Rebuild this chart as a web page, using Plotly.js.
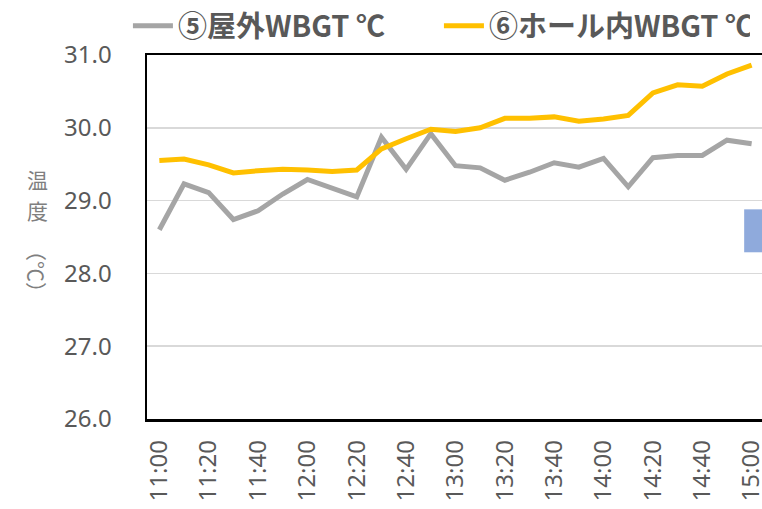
<!DOCTYPE html>
<html>
<head>
<meta charset="utf-8">
<script src="https://cdn.plot.ly/plotly-3.0.1.min.js"></script>
<style>html,body{margin:0;padding:0;background:#fff;}#chart{width:762px;height:509px;}</style>
</head>
<body>
<div id="chart"></div>
<script>
const times = ['11:00','11:10','11:20','11:30','11:40','11:50','12:00','12:10','12:20','12:30','12:40','12:50','13:00','13:10','13:20','13:30','13:40','13:50','14:00','14:10','14:20','14:30','14:40','14:50','15:00'];
const tickLabels = ['11:00','11:20','11:40','12:00','12:20','12:40','13:00','13:20','13:40','14:00','14:20','14:40','15:00'];
const outdoorWBGT = [28.60,29.23,29.11,28.74,28.86,29.09,29.29,29.17,29.05,29.87,29.43,29.92,29.48,29.45,29.28,29.39,29.52,29.46,29.58,29.19,29.59,29.62,29.62,29.83,29.78];
const hallWBGT = [29.55,29.57,29.49,29.38,29.41,29.43,29.42,29.40,29.42,29.71,29.85,29.98,29.95,30.00,30.13,30.13,30.15,30.09,30.12,30.17,30.48,30.59,30.57,30.74,30.86];
const seriesNames = ['⑤屋外WBGT ℃','⑥ホール内WBGT ℃'];

const FONT = '"Noto Sans", "Noto Sans CJK JP", sans-serif';
const CJK = '"Noto Sans CJK JP", sans-serif';
const traces = [
  {x: times, y: outdoorWBGT, name: seriesNames[0], type: 'scatter', mode: 'lines',
   line: {color: '#a5a5a5', width: 5}},
  {x: times, y: hallWBGT, name: seriesNames[1], type: 'scatter', mode: 'lines',
   line: {color: '#ffc000', width: 5}}
];
const layout = {
  width: 762, height: 509,
  margin: {l: 147, r: 0, t: 53, b: 90},
  paper_bgcolor: '#ffffff', plot_bgcolor: '#ffffff',
  font: {family: FONT, color: '#595959'},
  showlegend: true,
  legend: {orientation: 'h', x: -0.031, xanchor: 'left', y: 1.15, yanchor: 'top',
    font: {family: CJK, size: 29, color: '#595959', weight: 'bold'},
    entrywidth: 256, itemwidth: 40, bgcolor: 'rgba(0,0,0,0)'},
  xaxis: {type: 'category', range: [-0.5, 24.42], tickmode: 'array', tickvals: tickLabels, ticktext: tickLabels,
    tickangle: -90, tickfont: {family: FONT, size: 24, color: '#595959'}, ticks: '', ticklabelstandoff: 9,
    showgrid: false, showline: true, linecolor: '#000000', linewidth: 2.5, mirror: true, zeroline: false, fixedrange: true},
  yaxis: {range: [26, 31], dtick: 1, tickformat: '.1f', tickfont: {family: FONT, size: 24, color: '#595959'},
    ticks: '', ticklabelstandoff: 28, showgrid: true, gridcolor: '#d9d9d9', gridwidth: 1.5,
    showline: true, linecolor: '#000000', linewidth: 2.5, mirror: false, zeroline: false},
  shapes: [
    {type: 'rect', xref: 'paper', yref: 'y', x0: 0.971, x1: 1.0, y0: 28.29, y1: 28.88,
     fillcolor: '#8faadc', line: {width: 0}}
  ],
  annotations: [
    {xref: 'paper', yref: 'paper', x: -0.178, y: 0.66, xanchor: 'center', yanchor: 'middle', borderpad: 0,
     text: '温', showarrow: false, font: {family: CJK, size: 21, color: '#7f7f7f'}},
    {xref: 'paper', yref: 'paper', x: -0.178, y: 0.573, xanchor: 'center', yanchor: 'middle', borderpad: 0,
     text: '度', showarrow: false, font: {family: CJK, size: 21, color: '#7f7f7f'}},
    {xref: 'paper', yref: 'paper', x: -0.178, y: 0.405, xanchor: 'center', yanchor: 'middle', textangle: 90, borderpad: 0,
     text: '（℃）', showarrow: false, font: {family: CJK, size: 21, color: '#7f7f7f'}}
  ]
};
Plotly.newPlot('chart', traces, layout, {displayModeBar: false, staticPlot: true});
</script>
</body>
</html>
